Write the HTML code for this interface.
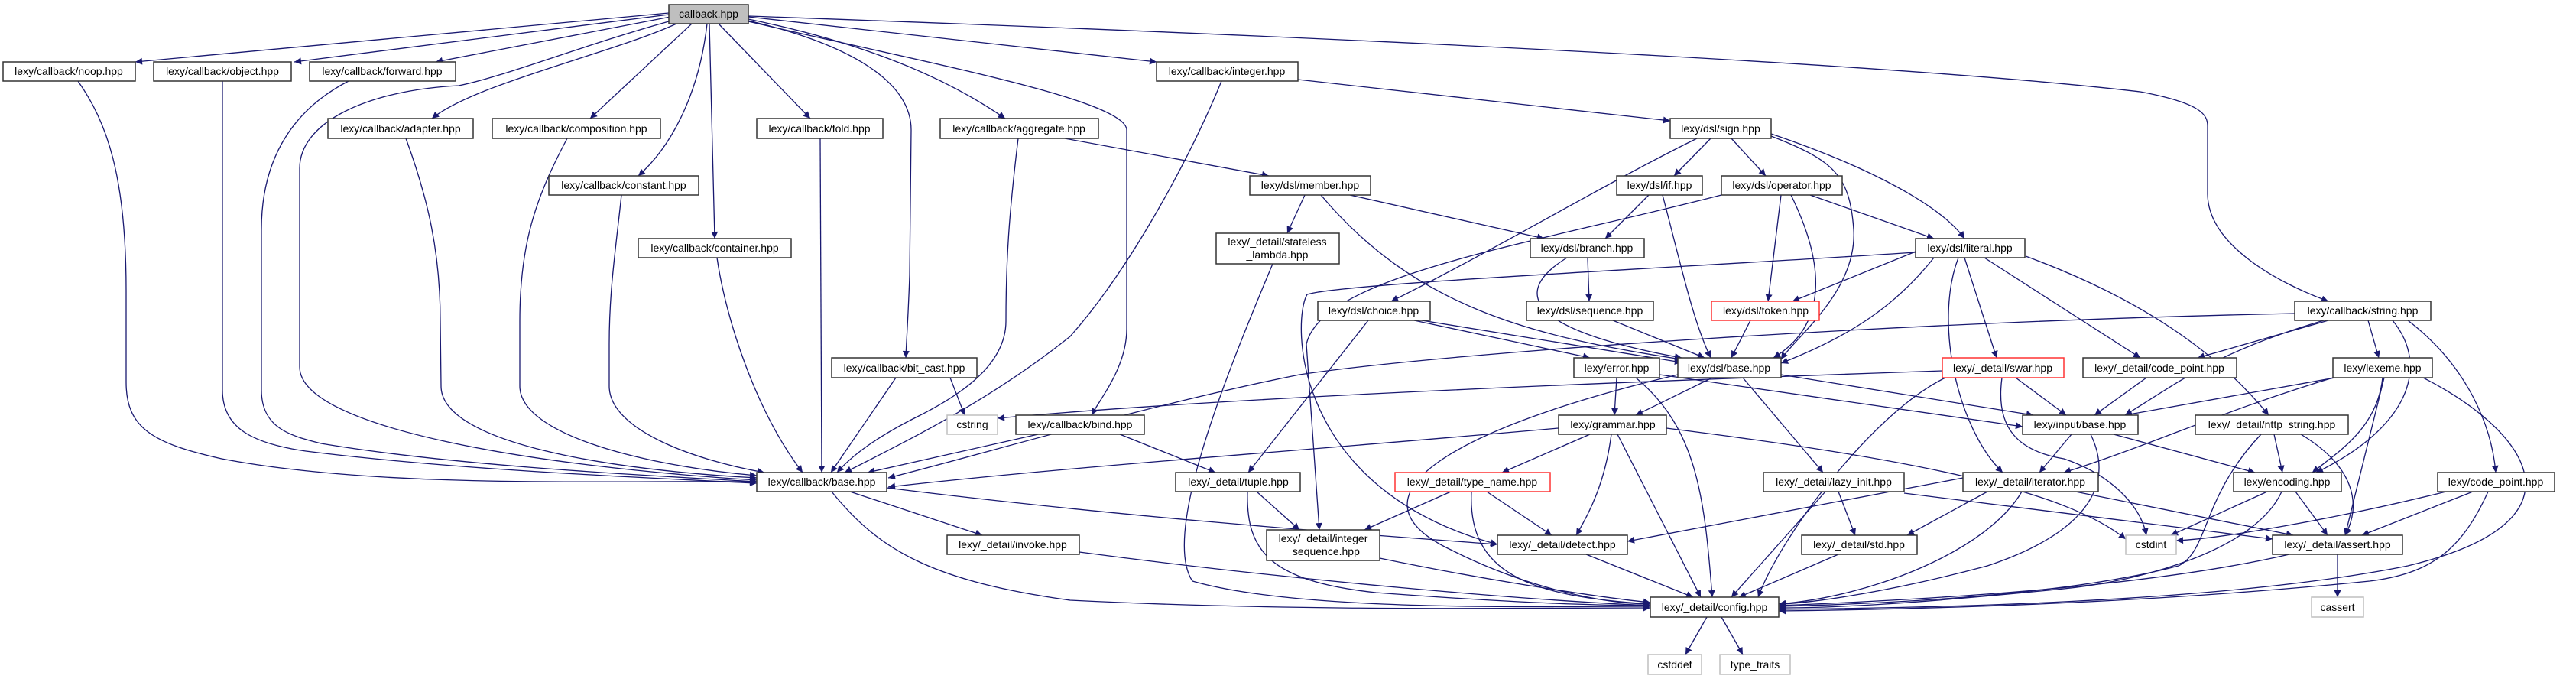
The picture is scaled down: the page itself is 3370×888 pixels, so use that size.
<!DOCTYPE html>
<html><head><meta charset="utf-8"><style>
html,body{margin:0;padding:0;background:#fff;}
svg{display:block;}
text{font-family:"Liberation Sans","DejaVu Sans",sans-serif;font-size:14px;fill:#000;}
.e{fill:none;stroke:#191970;stroke-width:1.3;marker-end:url(#a);}
.n{fill:#fff;stroke:#333;stroke-width:1.5;}
.r{fill:#fff;stroke:#ff3333;stroke-width:1.5;}
.g{fill:#fff;stroke:#bfbfbf;stroke-width:1.5;}
</style></head><body>
<svg width="3370" height="888" viewBox="0 0 3370 888" xmlns="http://www.w3.org/2000/svg">
<defs><marker id="a" viewBox="0 0 10 10" refX="10" refY="5" markerWidth="11" markerHeight="9" markerUnits="userSpaceOnUse" orient="auto"><path d="M0,0 L10,5 L0,10 z" fill="#191970"/></marker></defs>
<g>
<path class="e" d="M875,17 L177,81"/>
<path class="e" d="M875,19 L385,81"/>
<path class="e" d="M877,22 L570,81"/>
<path class="e" d="M885,31 C800,70 620,110 565,155"/>
<path class="e" d="M905,31 L772,155"/>
<path class="e" d="M925,31 C915,120 880,190 835,230"/>
<path class="e" d="M928,31 L935,312"/>
<path class="e" d="M940,31 L1060,155"/>
<path class="e" d="M979,25 C1150,60 1250,110 1315,155"/>
<path class="e" d="M979,22 L1513,81"/>
<path class="e" d="M979,27 C1120,60 1192,110 1192,170 L1190,360 C1188,420 1186,440 1185,468"/>
<path class="e" d="M979,28 C1200,80 1474,130 1474,170 L1474,430 C1474,480 1440,520 1428,543"/>
<path class="e" d="M875,28 C760,60 660,100 600,112 C480,118 392,160 392,220 L392,480 C392,560 700,610 990,628"/>
<path class="e" d="M979,21 C1800,50 2500,85 2800,120 C2880,135 2888,150 2888,165 L2888,253 C2888,320 2980,370 3046,394"/>
<path class="e" d="M102,106 C140,160 165,230 165,380 L165,500 C165,560 200,580 290,600 C500,640 800,628 990,630"/>
<path class="e" d="M291,106 L291,510 C291,560 330,580 400,590 C600,615 850,625 990,632"/>
<path class="e" d="M456,106 C390,140 342,200 342,300 L342,510 C342,560 380,570 420,580 C600,610 850,622 990,630"/>
<path class="e" d="M531,181 C560,260 576,330 576,420 L577,505 C577,580 800,615 990,625"/>
<path class="e" d="M742,181 C700,260 680,320 680,420 L680,505 C680,570 850,610 990,622"/>
<path class="e" d="M813,255 C805,330 797,380 797,450 L797,505 C797,560 900,600 1000,618"/>
<path class="e" d="M938,337 C950,420 990,540 1050,618"/>
<path class="e" d="M1073,181 L1075,618"/>
<path class="e" d="M1332,181 C1320,280 1316,340 1316,420 C1316,480 1250,520 1200,545 C1150,570 1115,595 1095,618"/>
<path class="e" d="M1598,106 C1560,200 1480,350 1400,440 C1300,520 1200,570 1105,618"/>
<path class="e" d="M1172,494 L1087,618"/>
<path class="e" d="M1358,568 L1135,618"/>
<path class="e" d="M1243,494 L1262,543"/>
<path class="e" d="M1465,568 L1590,618"/>
<path class="e" d="M3002,410 C2500,420 1900,460 1700,490 C1500,530 1300,590 1162,625"/>
<path class="e" d="M2039,560 C1700,590 1400,610 1162,637"/>
<path class="e" d="M1112,643 L1285,700"/>
<path class="e" d="M1160,638 C1500,680 1800,700 1959,712"/>
<path class="e" d="M1088,643 C1150,720 1220,760 1400,785 C1700,800 2000,795 2159,795"/>
<path class="e" d="M1393,181 L1660,230"/>
<path class="e" d="M1698,104 L2185,158"/>
<path class="e" d="M1707,255 L1684,305"/>
<path class="e" d="M1766,255 L2020,312"/>
<path class="e" d="M1728,255 C1850,400 2000,440 2200,470"/>
<path class="e" d="M1665,345 C1600,500 1520,700 1560,760 C1700,800 2000,793 2159,793"/>
<path class="e" d="M2238,181 L2190,230"/>
<path class="e" d="M2265,181 L2310,230"/>
<path class="e" d="M2220,181 C2100,240 1950,330 1820,394"/>
<path class="e" d="M2317,178 C2400,210 2420,230 2425,300 C2430,380 2350,440 2330,470"/>
<path class="e" d="M2317,175 C2450,220 2540,270 2570,312"/>
<path class="e" d="M2157,255 L2100,312"/>
<path class="e" d="M2175,255 C2200,350 2215,420 2238,468"/>
<path class="e" d="M2330,255 L2313,394"/>
<path class="e" d="M2343,255 C2380,330 2400,420 2320,468"/>
<path class="e" d="M2368,255 L2530,312"/>
<path class="e" d="M2252,255 C2000,320 1730,360 1709,450 L1726,693"/>
<path class="e" d="M2077,337 L2079,394"/>
<path class="e" d="M2050,337 C1980,380 1990,430 2200,468"/>
<path class="e" d="M2506,329 L2345,394"/>
<path class="e" d="M2530,337 C2480,400 2420,440 2330,475"/>
<path class="e" d="M2570,337 L2612,468"/>
<path class="e" d="M2596,337 L2800,468"/>
<path class="e" d="M2562,337 C2530,420 2560,560 2620,618"/>
<path class="e" d="M2650,335 C2800,390 2900,460 2968,543"/>
<path class="e" d="M2506,330 C2200,350 1760,370 1710,385 C1690,420 1690,640 1959,712"/>
<path class="e" d="M1790,419 L1633,618"/>
<path class="e" d="M1850,419 L2080,468"/>
<path class="e" d="M1860,419 L2200,474"/>
<path class="e" d="M2110,419 L2230,468"/>
<path class="e" d="M2290,419 L2265,468"/>
<path class="e" d="M2115,494 L2112,543"/>
<path class="e" d="M2140,494 C2220,560 2230,650 2240,781"/>
<path class="e" d="M2171,490 L2646,558"/>
<path class="e" d="M2240,494 L2140,543"/>
<path class="e" d="M2280,494 L2385,618"/>
<path class="e" d="M2330,490 L2660,543"/>
<path class="e" d="M2195,490 C1900,560 1750,650 1900,720 C2000,770 2100,790 2159,790"/>
<path class="e" d="M2080,568 L1965,618"/>
<path class="e" d="M2108,568 C2100,630 2080,670 2062,700"/>
<path class="e" d="M2116,568 L2225,781"/>
<path class="e" d="M2180,560 C2500,600 2700,640 2781,705"/>
<path class="e" d="M1898,643 L1785,693"/>
<path class="e" d="M1945,643 L2030,700"/>
<path class="e" d="M1925,643 C1920,750 2000,780 2159,790"/>
<path class="e" d="M2388,643 L2265,781"/>
<path class="e" d="M2405,643 L2427,700"/>
<path class="e" d="M2491,645 L2973,705"/>
<path class="e" d="M2568,625 L2129,708"/>
<path class="e" d="M2075,725 L2215,781"/>
<path class="e" d="M2405,725 L2275,781"/>
<path class="e" d="M1644,643 L1700,693"/>
<path class="e" d="M1632,643 C1630,720 1660,760 1800,775 C2000,790 2100,792 2159,792"/>
<path class="e" d="M1805,730 C1950,760 2100,782 2159,788"/>
<path class="e" d="M1412,722 C1700,760 2000,785 2159,792"/>
<path class="e" d="M2637,494 L2703,543"/>
<path class="e" d="M2619,494 C2610,560 2640,590 2700,600 C2760,620 2800,660 2808,700"/>
<path class="e" d="M2541,485 C2100,500 1600,520 1305,547"/>
<path class="e" d="M2545,494 C2450,540 2330,700 2300,781"/>
<path class="e" d="M2808,494 L2740,543"/>
<path class="e" d="M2710,568 L2668,618"/>
<path class="e" d="M2765,568 L2950,618"/>
<path class="e" d="M2735,568 C2770,640 2720,700 2600,740 C2450,780 2350,790 2327,790"/>
<path class="e" d="M2975,568 L2986,618"/>
<path class="e" d="M3010,568 C3080,610 3090,660 3068,700"/>
<path class="e" d="M2958,568 C2880,650 2890,720 2850,740 C2700,780 2450,790 2327,793"/>
<path class="e" d="M3055,494 L2780,543"/>
<path class="e" d="M3052,494 C2900,540 2820,580 2700,618"/>
<path class="e" d="M3117,494 C3110,560 3060,590 3025,618"/>
<path class="e" d="M3119,494 L3068,700"/>
<path class="e" d="M3170,494 C3300,560 3400,680 3150,740 C2900,790 2500,795 2327,797"/>
<path class="e" d="M3046,419 L2875,468"/>
<path class="e" d="M3040,419 C2900,460 2850,500 2780,543"/>
<path class="e" d="M3098,419 L3112,468"/>
<path class="e" d="M3130,419 C3180,480 3150,560 3030,618"/>
<path class="e" d="M3150,419 C3230,480 3260,560 3265,618"/>
<path class="e" d="M2715,643 L3000,700"/>
<path class="e" d="M2600,643 L2495,700"/>
<path class="e" d="M2645,643 C2600,720 2450,780 2327,790"/>
<path class="e" d="M2966,643 L2840,700"/>
<path class="e" d="M3003,643 L3045,700"/>
<path class="e" d="M2985,643 C2950,720 2800,760 2700,770 C2500,790 2400,795 2327,795"/>
<path class="e" d="M3200,643 C3050,680 2900,705 2847,707"/>
<path class="e" d="M3235,643 L3090,700"/>
<path class="e" d="M3255,643 C3220,720 3180,750 3100,760 C2800,790 2500,797 2327,799"/>
<path class="e" d="M3058,725 L3058,781"/>
<path class="e" d="M2995,725 C2800,770 2500,785 2327,792"/>
<path class="e" d="M2233,807 L2205,856"/>
<path class="e" d="M2252,807 L2280,856"/>
</g>
<g text-anchor="middle">
<rect x="875" y="6" width="104" height="25" fill="#bfbfbf" stroke="#333" stroke-width="1.5"/><text x="927" y="23">callback.hpp</text>
<rect class="n" x="4" y="81" width="173" height="25"/><text x="90" y="98">lexy/callback/noop.hpp</text>
<rect class="n" x="201" y="81" width="180" height="25"/><text x="291" y="98">lexy/callback/object.hpp</text>
<rect class="n" x="405" y="81" width="191" height="25"/><text x="500" y="98">lexy/callback/forward.hpp</text>
<rect class="n" x="1513" y="81" width="185" height="25"/><text x="1605" y="98">lexy/callback/integer.hpp</text>
<rect class="n" x="429" y="155" width="190" height="26"/><text x="524" y="173">lexy/callback/adapter.hpp</text>
<rect class="n" x="644" y="155" width="220" height="26"/><text x="754" y="173">lexy/callback/composition.hpp</text>
<rect class="n" x="990" y="155" width="165" height="26"/><text x="1072" y="173">lexy/callback/fold.hpp</text>
<rect class="n" x="1230" y="155" width="207" height="26"/><text x="1333" y="173">lexy/callback/aggregate.hpp</text>
<rect class="n" x="2185" y="155" width="132" height="26"/><text x="2251" y="173">lexy/dsl/sign.hpp</text>
<rect class="n" x="718" y="230" width="196" height="25"/><text x="816" y="247">lexy/callback/constant.hpp</text>
<rect class="n" x="1635" y="230" width="158" height="25"/><text x="1714" y="247">lexy/dsl/member.hpp</text>
<rect class="n" x="2115" y="230" width="112" height="25"/><text x="2171" y="247">lexy/dsl/if.hpp</text>
<rect class="n" x="2252" y="230" width="158" height="25"/><text x="2331" y="247">lexy/dsl/operator.hpp</text>
<rect class="n" x="1591" y="305" width="161" height="40"/><text x="1671" y="321">lexy/_detail/stateless</text><text x="1671" y="338">_lambda.hpp</text>
<rect class="n" x="835" y="312" width="200" height="25"/><text x="935" y="329">lexy/callback/container.hpp</text>
<rect class="n" x="2002" y="312" width="149" height="25"/><text x="2076" y="329">lexy/dsl/branch.hpp</text>
<rect class="n" x="2506" y="312" width="143" height="25"/><text x="2577" y="329">lexy/dsl/literal.hpp</text>
<rect class="n" x="1724" y="394" width="147" height="25"/><text x="1797" y="411">lexy/dsl/choice.hpp</text>
<rect class="n" x="1997" y="394" width="166" height="25"/><text x="2080" y="411">lexy/dsl/sequence.hpp</text>
<rect class="r" x="2239" y="394" width="141" height="25"/><text x="2310" y="411">lexy/dsl/token.hpp</text>
<rect class="n" x="3002" y="394" width="178" height="25"/><text x="3091" y="411">lexy/callback/string.hpp</text>
<rect class="n" x="1088" y="468" width="190" height="26"/><text x="1183" y="486">lexy/callback/bit_cast.hpp</text>
<rect class="n" x="2059" y="468" width="112" height="26"/><text x="2115" y="486">lexy/error.hpp</text>
<rect class="n" x="2195" y="468" width="135" height="26"/><text x="2262" y="486">lexy/dsl/base.hpp</text>
<rect class="r" x="2541" y="468" width="159" height="26"/><text x="2620" y="486">lexy/_detail/swar.hpp</text>
<rect class="n" x="2725" y="468" width="201" height="26"/><text x="2825" y="486">lexy/_detail/code_point.hpp</text>
<rect class="n" x="3052" y="468" width="130" height="26"/><text x="3117" y="486">lexy/lexeme.hpp</text>
<rect class="g" x="1239" y="543" width="66" height="25"/><text x="1272" y="560">cstring</text>
<rect class="n" x="1329" y="543" width="168" height="25"/><text x="1413" y="560">lexy/callback/bind.hpp</text>
<rect class="n" x="2039" y="543" width="141" height="25"/><text x="2110" y="560">lexy/grammar.hpp</text>
<rect class="n" x="2646" y="543" width="151" height="25"/><text x="2721" y="560">lexy/input/base.hpp</text>
<rect class="n" x="2872" y="543" width="200" height="25"/><text x="2972" y="560">lexy/_detail/nttp_string.hpp</text>
<rect class="n" x="990" y="618" width="170" height="25"/><text x="1075" y="635">lexy/callback/base.hpp</text>
<rect class="n" x="1538" y="618" width="163" height="25"/><text x="1620" y="635">lexy/_detail/tuple.hpp</text>
<rect class="r" x="1825" y="618" width="203" height="25"/><text x="1926" y="635">lexy/_detail/type_name.hpp</text>
<rect class="n" x="2307" y="618" width="184" height="25"/><text x="2399" y="635">lexy/_detail/lazy_init.hpp</text>
<rect class="n" x="2568" y="618" width="177" height="25"/><text x="2656" y="635">lexy/_detail/iterator.hpp</text>
<rect class="n" x="2922" y="618" width="141" height="25"/><text x="2992" y="635">lexy/encoding.hpp</text>
<rect class="n" x="3189" y="618" width="153" height="25"/><text x="3265" y="635">lexy/code_point.hpp</text>
<rect class="n" x="1239" y="700" width="173" height="25"/><text x="1325" y="717">lexy/_detail/invoke.hpp</text>
<rect class="n" x="1657" y="693" width="148" height="40"/><text x="1731" y="709">lexy/_detail/integer</text><text x="1731" y="726">_sequence.hpp</text>
<rect class="n" x="1959" y="700" width="170" height="25"/><text x="2044" y="717">lexy/_detail/detect.hpp</text>
<rect class="n" x="2357" y="700" width="151" height="25"/><text x="2432" y="717">lexy/_detail/std.hpp</text>
<rect class="g" x="2781" y="700" width="66" height="25"/><text x="2814" y="717">cstdint</text>
<rect class="n" x="2973" y="700" width="170" height="25"/><text x="3058" y="717">lexy/_detail/assert.hpp</text>
<rect class="n" x="2159" y="781" width="168" height="26"/><text x="2243" y="799">lexy/_detail/config.hpp</text>
<rect class="g" x="3024" y="781" width="68" height="26"/><text x="3058" y="799">cassert</text>
<rect class="g" x="2156" y="856" width="70" height="26"/><text x="2191" y="874">cstddef</text>
<rect class="g" x="2250" y="856" width="92" height="26"/><text x="2296" y="874">type_traits</text>
</g>
</svg>
</body></html>
